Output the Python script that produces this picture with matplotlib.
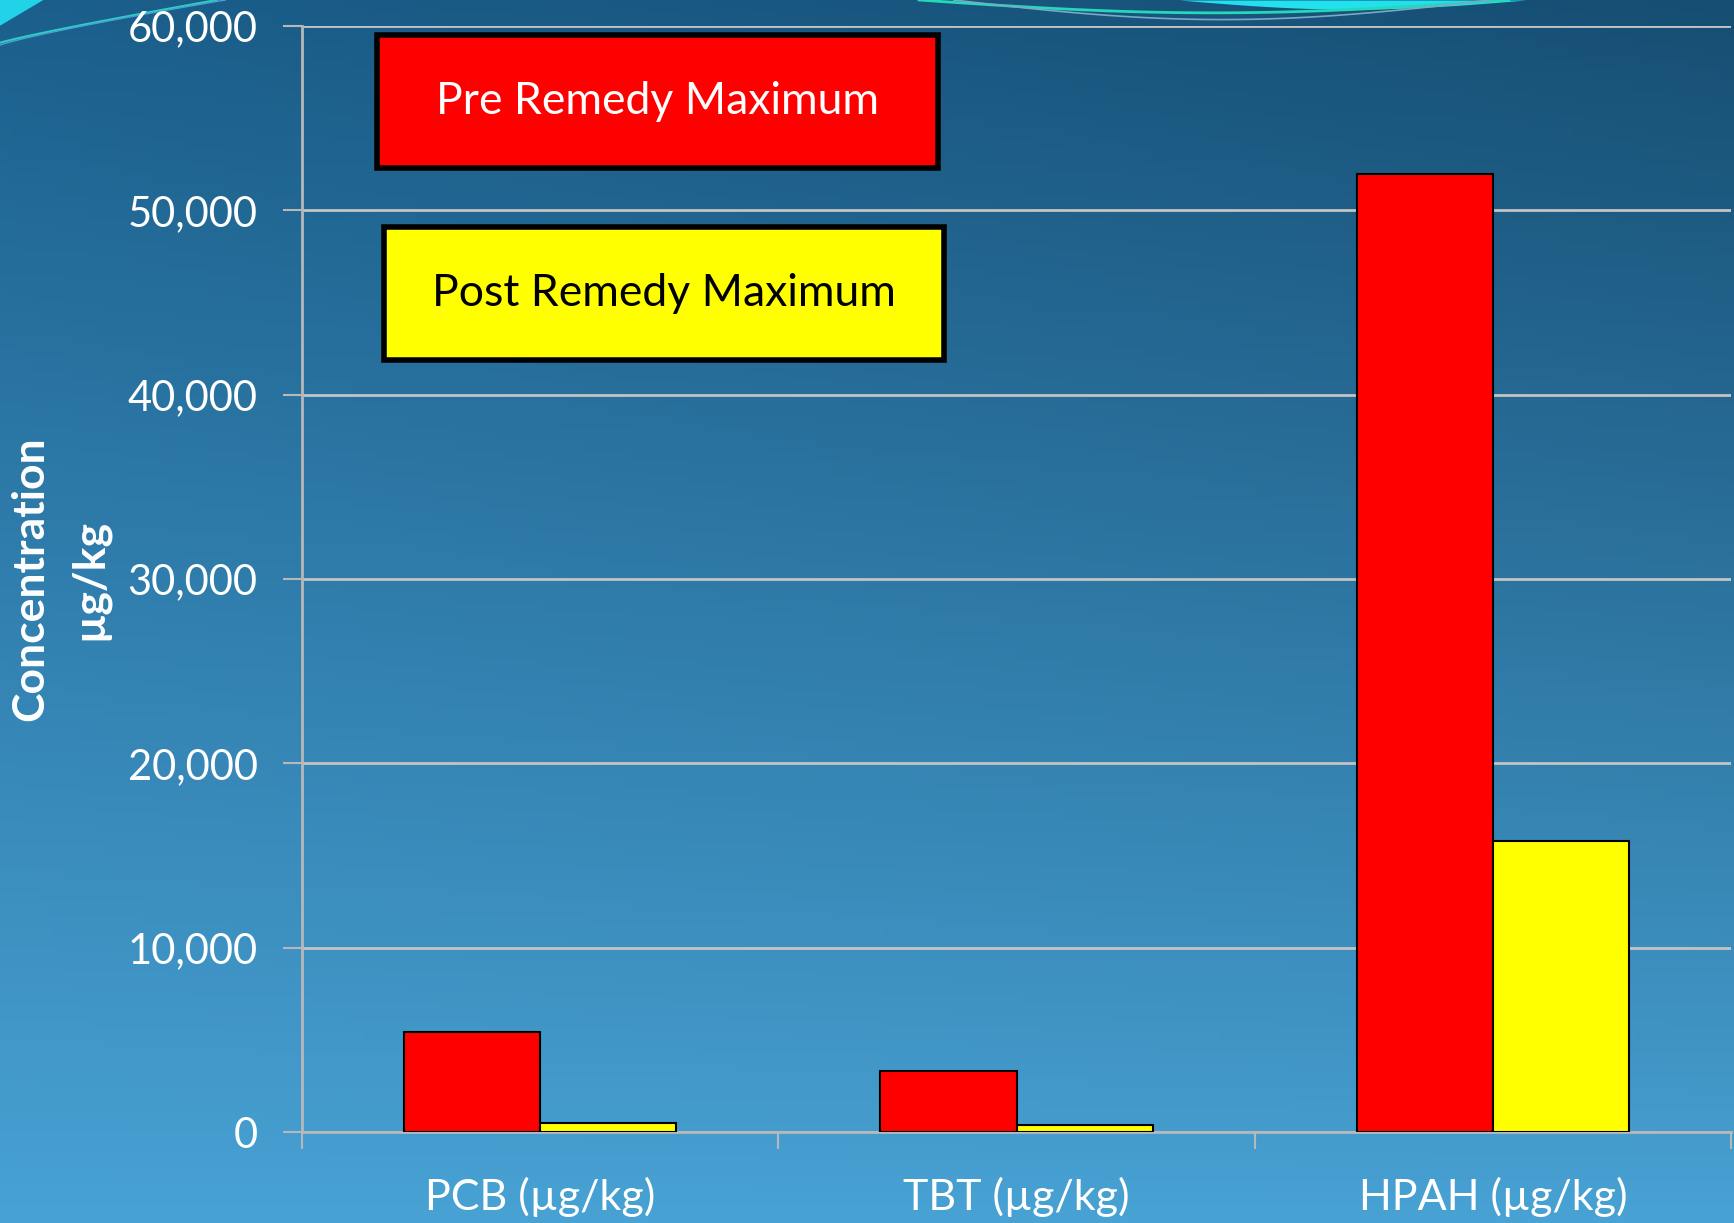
import numpy as np
import matplotlib
matplotlib.use("Agg")
import matplotlib.pyplot as plt
from matplotlib.patches import Rectangle, Polygon

categories = ["PCB (µg/kg)", "TBT (µg/kg)", "HPAH (µg/kg)"]
pre_remedy = [5400, 3300, 52000]
post_remedy = [480, 380, 15800]
series_names = ["Pre Remedy Maximum", "Post Remedy Maximum"]
y_ticks = [0, 10000, 20000, 30000, 40000, 50000, 60000]
y_label = "Concentration\nµg/kg"

plt.rcParams["font.family"] = ["Lato", "DejaVu Sans"]

fig = plt.figure(figsize=(17.34, 12.23), dpi=100)

# background gradient (slide look)
bg = fig.add_axes([0, 0, 1, 1], zorder=-10)
ny, nx = 200, 300
yy, xx = np.mgrid[0:1:ny * 1j, 0:1:nx * 1j]
top = np.array([27, 95, 140]) / 255
bottom = np.array([72, 162, 212]) / 255
t = yy[..., None]
img = top * (1 - t) + bottom * t
# slightly darker towards the top right
dark = (xx * (1 - yy) * 0.18)[..., None]
img = img * (1 - dark)
bg.imshow(img, aspect="auto", extent=[0, 1, 0, 1], origin="upper")
bg.set_xlim(0, 1)
bg.set_ylim(0, 1)
bg.axis("off")

# decorative cyan swoosh at the top
s = np.linspace(0, 1, 100)
bg.add_patch(Polygon([[0, 1], [0, 0.979], [0.025, 1]], closed=True,
                     color="#22d3e8", lw=0))
bg.plot(s * 0.125, 0.965 + 0.035 * s ** 0.9, color="#2ccfc0", lw=1.5)
bg.plot(s * 0.13, 0.963 + 0.037 * s ** 0.85, color="#4a9fd8", lw=1.0)
arc = np.sin(np.pi * s)
bg.plot(0.53 + s * 0.34, 1.0 - 0.0105 * arc, color="#25d8b8", lw=2.0)
bg.plot(0.55 + s * 0.31, 1.0 - 0.016 * arc, color="#7aa8c8", lw=1.2)
bg.fill_between(0.68 + s * 0.2, 1.0 - 0.0075 * np.sin(np.pi * s), 1.0,
                color="#22e0ee", lw=0)

ax = fig.add_axes([0.1742, 0.0744, 0.8241, 0.9043])
ax.patch.set_alpha(0)

x = np.arange(len(categories))
w = 0.286
ax.bar(x - w / 2, pre_remedy, w, color="#ff0000", edgecolor="black", lw=1.5, zorder=3)
ax.bar(x + w / 2, post_remedy, w, color="#ffff00", edgecolor="black", lw=1.5, zorder=3)

ax.set_xlim(-0.5, 2.5)
ax.set_ylim(0, 60000)
ax.set_yticks(y_ticks)
ax.set_yticklabels([f"{v:,}" for v in y_ticks])
ax.set_xticks(x)
ax.set_xticklabels(categories)
ax.set_xticks([-0.5, 0.5, 1.5, 2.5], minor=True)
ax.tick_params(axis="x", which="major", length=0, pad=32, labelsize=31, colors="white")
ax.tick_params(axis="x", which="minor", length=12, width=1.5, color="#b8b8b8")
ax.tick_params(axis="y", length=14, width=1.5, color="#b8b8b8", labelsize=30,
               labelcolor="white", pad=18)
ax.yaxis.grid(True, color="#c4c4c4", lw=2)
ax.set_axisbelow(True)
for side in ["top", "right"]:
    ax.spines[side].set_visible(False)
for side in ["left", "bottom"]:
    ax.spines[side].set_color("#b8b8b8")
    ax.spines[side].set_linewidth(2)

ax.set_ylabel(y_label, color="white", fontsize=32, fontweight="bold",
              linespacing=1.55)
ax.yaxis.set_label_coords(-0.135, 0.5)

# legend boxes drawn as rectangles in axes coords
boxes = [
    (0.0525, 0.872, 0.3925, 0.12, "#ff0000", "white", series_names[0]),
    (0.0575, 0.698, 0.392, 0.12, "#ffff00", "black", series_names[1]),
]
for bx, by, bw, bh, fc, tc, label in boxes:
    ax.add_patch(Rectangle((bx, by), bw, bh, transform=ax.transAxes,
                           facecolor=fc, edgecolor="black", lw=4, zorder=5))
    ax.text(bx + bw / 2, by + bh / 2, label, transform=ax.transAxes,
            ha="center", va="center", color=tc, fontsize=32, zorder=6)

fig.savefig("out.png", dpi=100)
